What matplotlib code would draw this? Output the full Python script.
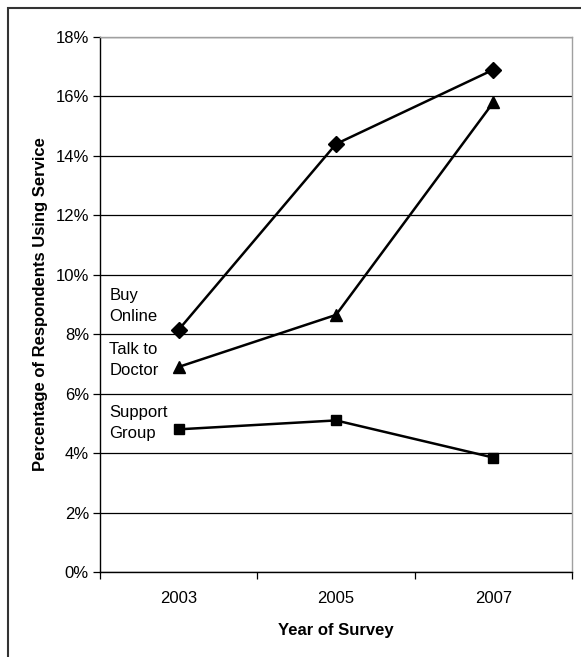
import matplotlib.pyplot as plt
from matplotlib.patches import Rectangle
from matplotlib.ticker import FixedLocator, PercentFormatter

plt.rcParams['font.family'] = ['Liberation Sans', 'DejaVu Sans']

years = ['2003', '2005', '2007']
buy_online = [8.15, 14.4, 16.9]
talk_doctor = [6.9, 8.65, 15.8]
support_group = [4.8, 5.1, 3.85]
labels = ['Buy\nOnline', 'Talk to\nDoctor', 'Support\nGroup']
label_y = [8.95, 7.13, 5.01]

W, H = 581, 657
fig = plt.figure(figsize=(W / 100, H / 100), dpi=100)
ax = fig.add_axes([100 / W, 1 - 572 / H, 472 / W, 535 / H])

x = range(len(years))
ax.plot(x, buy_online, color='black', lw=1.8, marker='D', ms=8)
ax.plot(x, talk_doctor, color='black', lw=1.8, marker='^', ms=8)
ax.plot(x, support_group, color='black', lw=1.8, marker='s', ms=7)

for txt, yy in zip(labels, label_y):
    ax.text(-0.44, yy, txt, fontsize=12, va='center', ha='left', linespacing=1.5)

ax.set_xlim(-0.5, 2.5)
ax.set_ylim(0, 18)
ax.set_yticks(range(0, 19, 2))
ax.yaxis.set_major_formatter(PercentFormatter(decimals=0))
ax.grid(axis='y', color='black', lw=0.9)
ax.set_axisbelow(True)

ax.set_xticks(list(x))
ax.set_xticklabels(years)
ax.xaxis.set_minor_locator(FixedLocator([-0.5, 0.5, 1.5, 2.5]))
ax.tick_params(axis='x', which='major', length=0, pad=14, labelsize=12)
ax.tick_params(axis='x', which='minor', length=5, width=0.9, direction='out')
ax.tick_params(axis='y', length=5, width=0.9, labelsize=12, pad=3)

for s in ['top', 'right']:
    ax.spines[s].set_color('#a0a0a0')
    ax.spines[s].set_linewidth(1.0)
for s in ['left', 'bottom']:
    ax.spines[s].set_color('black')
    ax.spines[s].set_linewidth(1.0)

ax.set_xlabel('Year of Survey', fontsize=12, fontweight='bold', labelpad=12)
ax.set_ylabel('Percentage of Respondents Using Service', fontsize=12,
              fontweight='bold', labelpad=5)

fig.patches.append(Rectangle((8 / W, -0.05), 1.2, 1 - 8 / H + 0.05,
                             transform=fig.transFigure, fill=False,
                             edgecolor='#333333', lw=1.5))

fig.savefig('out.png', dpi=100)
